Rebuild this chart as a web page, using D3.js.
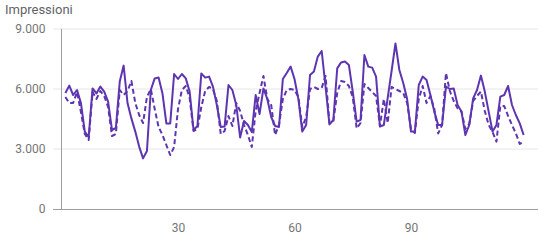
<!DOCTYPE html>
<html>
<head>
<meta charset="utf-8">
<script src="https://cdn.jsdelivr.net/npm/d3@7"></script>
<style>
  body { margin: 0; background: #fff; }
  text { font-family: Roboto, "Noto Sans", sans-serif; }
</style>
</head>
<body>
<div id="chart"></div>
<script>
const width = 539;
const height = 240;

// impressions per day, current period (solid) and previous period (dashed)
const current = [
  5800, 6170, 5700, 5950, 5300, 3870, 3600, 6030, 5780, 6120,
  5870, 5370, 3950, 4050, 6370, 7170, 5300, 4530, 3870, 3120,
  2530, 2900, 5950, 6530, 6570, 5780, 4280, 4280, 6750, 6500,
  6750, 6530, 5870, 3950, 4150, 6780, 6570, 6620, 6120, 5200,
  4100, 4120, 6200, 5950, 5200, 3580, 4400, 4200, 3850, 5700,
  4750, 6030, 5500, 4600, 4150, 4100, 6500, 6800, 7120, 6500,
  5500, 3870, 4200, 6700, 6870, 7620, 7900, 6100, 4230, 4450,
  7030, 7330, 7370, 7200, 5870, 4370, 4450, 7700, 7120, 7070,
  6620, 4120, 4200, 5560, 6900, 8280, 6950, 6300, 5500, 3870,
  3870, 6200, 6620, 6450, 5700, 4870, 4200, 4200, 6120, 6000,
  6030, 5200, 4870, 3700, 4200, 5530, 5950, 6670, 5870, 4870,
  3870, 4200, 5620, 5700, 6150, 5200, 4700, 4280, 3700
];
const previous = [
  5600, 5300, 5300, 5850, 4850, 3750, 3450, 5850, 5500, 5900,
  5650, 5100, 3650, 3750, 5950, 5700, 5900, 6400, 5300, 4700,
  4300, 5600, 6000, 5000, 4100, 3700, 3200, 2700, 3100, 5000,
  5950, 6150, 5550, 3900, 4000, 5100, 5900, 6100, 6000, 5400,
  3750, 3900, 4650, 4150, 5300, 4900, 4200, 3700, 3100, 4900,
  5800, 6650, 5500, 5200, 3700, 4200, 5500, 5950, 6000, 5950,
  5600, 4100, 4600, 6000, 6100, 6000, 6050, 6650, 4300, 4400,
  5800, 6400, 6350, 6150, 5600, 4030, 4300, 6250, 6050, 5850,
  5650, 4150, 5500, 4300, 6100, 6000, 5900, 5800, 5300, 4000,
  3800, 5500, 6150, 5300, 5650, 5000, 3780, 4200, 6800, 5900,
  5400, 5030, 4870, 4000, 4250, 5400, 5650, 5870, 4900, 4200,
  3850, 3370, 5150, 5150, 4650, 4200, 3780, 3250, 3370
];
const yTicks = [0, 3000, 6000, 9000];
const xTicks = [30, 60, 90];
const yTitle = 'Impressioni';

const lineColor = '#5e35b1';

const itFormat = d3.formatLocale({ decimal: ',', thousands: '.', grouping: [3], currency: ['€', ''] }).format(',d');

const xScale = d3.scaleLinear().domain([0, 122.7]).range([61.5, 538]);
const yScale = d3.scaleLinear().domain([0, 9000]).range([209, 29]);

const svg = d3.select('#chart')
  .append('svg')
  .attr('width', width)
  .attr('height', height);

// gridlines
svg.append('g')
  .selectAll('line')
  .data(yTicks.filter((d) => d > 0))
  .enter()
  .append('line')
  .attr('x1', 53)
  .attr('x2', 538)
  .attr('y1', (d) => yScale(d))
  .attr('y2', (d) => yScale(d))
  .attr('stroke', '#e6e6e6')
  .attr('stroke-width', 1);

// y axis labels
const yAxis = d3.axisLeft(yScale)
  .tickValues(yTicks)
  .tickFormat(itFormat)
  .tickSize(0)
  .tickPadding(16);

svg.append('g')
  .attr('transform', 'translate(61.5, 0)')
  .call(yAxis)
  .call((g) => g.select('.domain').remove())
  .selectAll('text')
  .attr('fill', '#757575')
  .style('font-size', '12px');

// x axis labels
const xAxis = d3.axisBottom(xScale)
  .tickValues(xTicks)
  .tickSize(0)
  .tickPadding(14);

svg.append('g')
  .attr('transform', 'translate(0, 209)')
  .call(xAxis)
  .call((g) => g.select('.domain').remove())
  .selectAll('text')
  .attr('fill', '#757575')
  .style('font-size', '12px');

// baseline + vertical axis
svg.append('line')
  .attr('x1', 53).attr('x2', 538)
  .attr('y1', yScale(0) + 0.5).attr('y2', yScale(0) + 0.5)
  .attr('stroke', '#9e9e9e');

svg.append('line')
  .attr('x1', xScale(0)).attr('x2', xScale(0))
  .attr('y1', yScale(9000)).attr('y2', yScale(0))
  .attr('stroke', '#9e9e9e');

const line = d3.line()
  .x((d, i) => xScale(i + 1))
  .y((d) => yScale(d));

svg.append('path')
  .datum(previous)
  .attr('d', line)
  .attr('fill', 'none')
  .attr('stroke', lineColor)
  .attr('stroke-width', 2)
  .attr('stroke-dasharray', '5,3')
  .attr('stroke-linejoin', 'round');

svg.append('path')
  .datum(current)
  .attr('d', line)
  .attr('fill', 'none')
  .attr('stroke', lineColor)
  .attr('stroke-width', 2)
  .attr('stroke-linejoin', 'round');

svg.append('text')
  .attr('x', 5)
  .attr('y', 14)
  .attr('fill', '#5f6368')
  .style('font-size', '13px')
  .text(yTitle);
</script>
</body>
</html>
